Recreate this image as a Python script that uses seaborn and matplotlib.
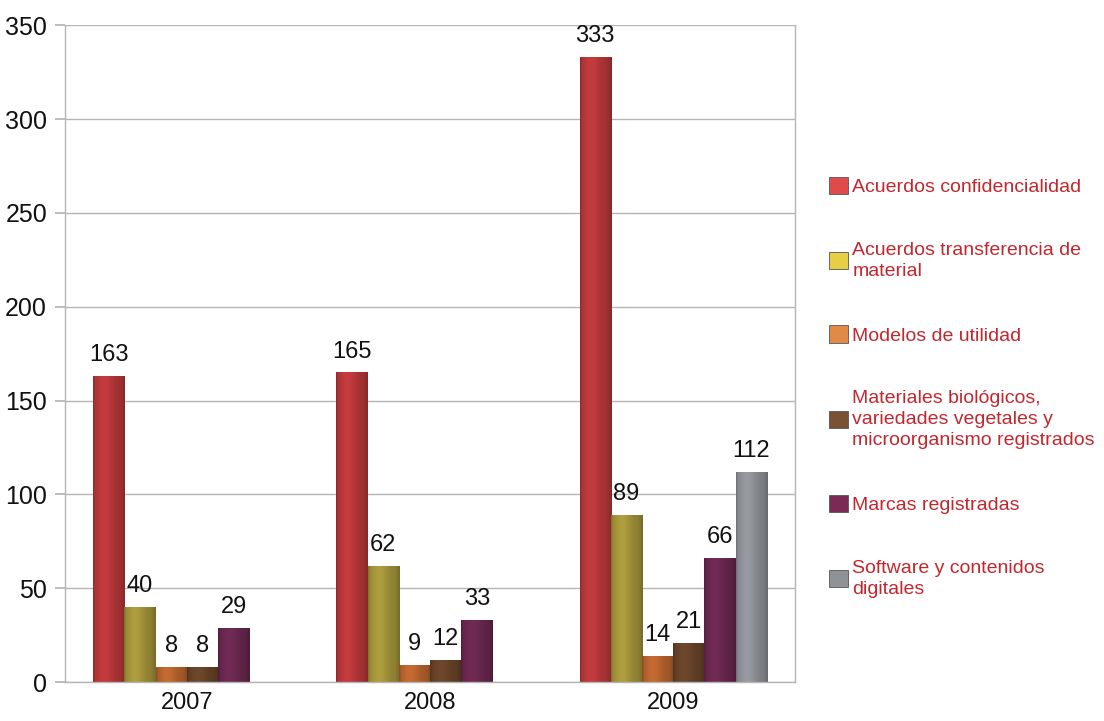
import numpy as np
import pandas as pd
import seaborn as sns
import matplotlib.pyplot as plt
from matplotlib.colors import to_rgb

# ---- data ----
years = ['2007', '2008', '2009']
series = ['Acuerdos confidencialidad', 'Acuerdos transferencia de material',
          'Modelos de utilidad',
          'Materiales biológicos, variedades vegetales y microorganismo registrados',
          'Marcas registradas', 'Software y contenidos digitales']
confidencialidad = [163, 165, 333]
transferencia = [40, 62, 89]
modelos = [8, 9, 14]
materiales = [8, 12, 21]
marcas = [29, 33, 66]
software = [np.nan, np.nan, 112]
legend_labels = ['Acuerdos confidencialidad', 'Acuerdos transferencia de\nmaterial',
                 'Modelos de utilidad',
                 'Materiales biológicos,\nvariedades vegetales y\nmicroorganismo registrados',
                 'Marcas registradas', 'Software y contenidos\ndigitales']
colors = ['#b8383a', '#a3943a', '#b8642e', '#674328', '#6a2850', '#8e9196']
legend_colors = ['#e04a4a', '#e6cf45', '#e08a45', '#7a5233', '#7a2a55', '#8f9398']

values = [confidencialidad, transferencia, modelos, materiales, marcas, software]
df = pd.DataFrame({
    'year': years * len(series),
    'serie': [s for s in series for _ in years],
    'count': [v for vals in values for v in vals],
})

sns.set_theme(style='white')
plt.rcParams['font.family'] = ['Liberation Sans', 'DejaVu Sans']

fig = plt.figure(figsize=(11.04, 7.21), dpi=100)
ax = fig.add_axes([0.059, 0.054, 0.661, 0.911])

sns.barplot(data=df, x='year', y='count', hue='serie', hue_order=series,
            palette=colors, width=0.77, errorbar=None, ax=ax, legend=True,
            saturation=1, edgecolor='none')

# soft cylinder-like shading on every bar
def shade(ax, patch, color):
    x0, y0 = patch.get_x(), patch.get_y()
    w, h = patch.get_width(), patch.get_height()
    if not np.isfinite(h) or h <= 0:
        return
    t = np.linspace(0, 1, 64)
    f = 0.85 + 0.22 * np.exp(-((t - 0.35) / 0.3) ** 2)
    f[:5] *= np.linspace(0.85, 1, 5)
    f[-10:] *= np.linspace(1, 0.85, 10)
    rgb = np.clip(np.outer(np.ones(2), f)[..., None] * np.array(to_rgb(color)), 0, 1)
    im = ax.imshow(rgb, extent=[x0, x0 + w, y0, y0 + h], aspect='auto',
                   origin='lower', zorder=patch.get_zorder() + 0.1,
                   interpolation='bilinear')
    im.set_clip_path(patch)

for cont, col in zip(ax.containers, colors):
    for p in cont.patches:
        shade(ax, p, col)
    ax.bar_label(cont, fmt='%d', padding=7, fontsize=17, color='#111111')

ax.set_xlim(-0.5, 2.5)
ax.set_ylim(0, 350)
ax.set_yticks(range(0, 351, 50))
ax.set_xlabel('')
ax.set_ylabel('')
ax.yaxis.grid(True, color='#b5b5b5', linewidth=1)
ax.set_axisbelow(True)
for s in ax.spines.values():
    s.set_color('#b5b5b5')
    s.set_linewidth(1)
ax.spines['top'].set_visible(False)
ax.tick_params(axis='y', left=True, length=7, color='#b5b5b5', labelsize=18, pad=6,
               labelcolor='#111111')
ax.tick_params(axis='x', bottom=False, labelsize=17, pad=1, labelcolor='#111111')

handles, _ = ax.get_legend_handles_labels()
for h, c in zip(handles, legend_colors):
    h.set_facecolor(c)
    h.set_edgecolor('#555555')
    h.set_linewidth(0.6)
ax.get_legend().remove()
leg = fig.legend(handles, legend_labels, loc='center left', bbox_to_anchor=(0.735, 0.463),
                 frameon=False, fontsize=14, labelspacing=2.35,
                 handlelength=1.0, handleheight=1.0, handletextpad=0.2)
for t in leg.get_texts():
    t.set_color('#c4262d')
    t.set_linespacing(1.3)

fig.savefig('out.png', dpi=100)
